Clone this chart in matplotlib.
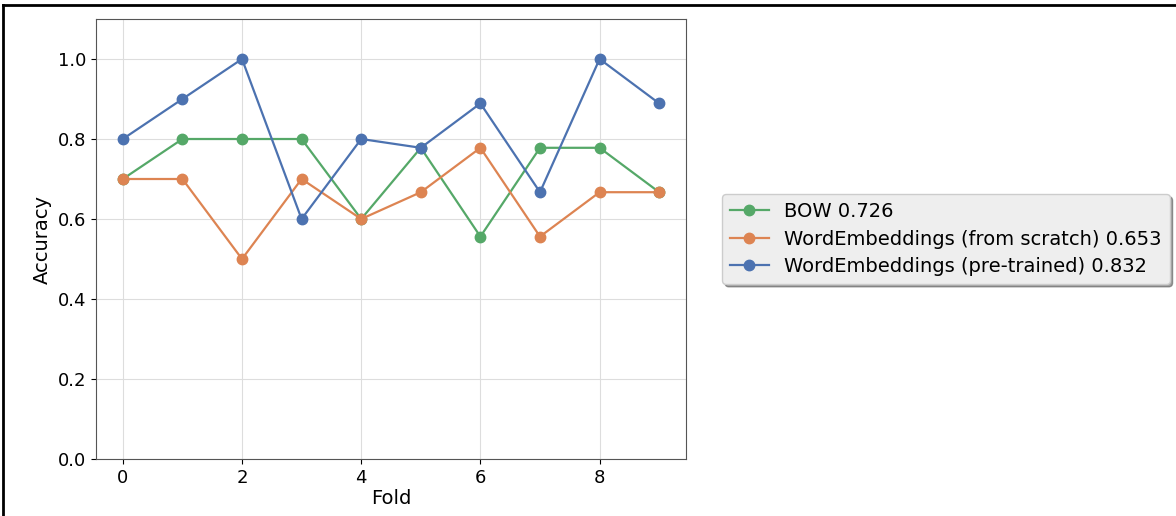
import numpy as np
import matplotlib.pyplot as plt
from matplotlib.lines import Line2D

folds = list(range(10))
bow = [0.7, 0.8, 0.8, 0.8, 0.6, 0.778, 0.556, 0.778, 0.778, 0.667]
we_scratch = [0.7, 0.7, 0.5, 0.7, 0.6, 0.667, 0.778, 0.556, 0.667, 0.667]
we_pretrained = [0.8, 0.9, 1.0, 0.6, 0.8, 0.778, 0.889, 0.667, 1.0, 0.889]

series = (
    ('BOW', bow, '#55A868'),
    ('WordEmbeddings (from scratch)', we_scratch, '#DD8452'),
    ('WordEmbeddings (pre-trained)', we_pretrained, '#4C72B0'),
)

fig = plt.figure(figsize=(11.76, 5.16), dpi=100)
ax = fig.add_axes([96 / 1176, 1 - 459 / 516, 590 / 1176, 440 / 516])
for name, vals, color in series:
    ax.plot(folds, vals, marker='o', markersize=7.5, linewidth=1.6, color=color,
            label='%s %.3f' % (name, np.mean(vals)))
ax.set_ylim(0, 1.1)
ax.set_xlabel('Fold', fontsize=14, labelpad=2)
ax.set_ylabel('Accuracy', fontsize=14)
ax.tick_params(labelsize=13)
ax.grid(True, color='#dddddd')
ax.set_axisbelow(True)
for s in ax.spines.values():
    s.set_color('#555555')
ax.legend(loc='center left', bbox_to_anchor=(1.045, 0.5), shadow=True,
          fontsize=14, facecolor='#eeeeee', edgecolor='#cccccc', handlelength=2,
          labelspacing=0.45)

# frame of the screenshot
fig.add_artist(Line2D([3 / 1176, 3 / 1176], [0, 1 - 5 / 516], color='black', lw=2))
fig.add_artist(Line2D([3 / 1176, 1], [1 - 5 / 516, 1 - 5 / 516], color='black', lw=2))

fig.savefig('out.png', dpi=100)
